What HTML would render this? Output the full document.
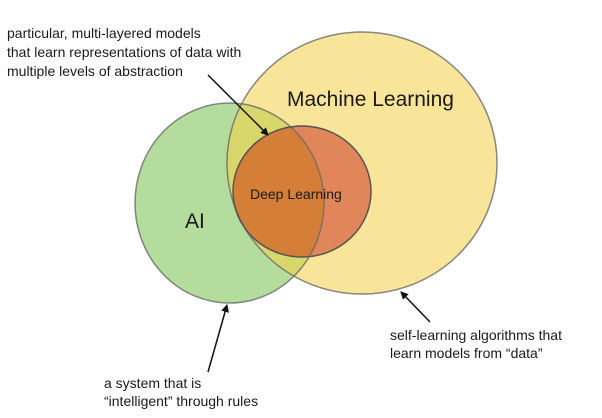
<!DOCTYPE html>
<html><head><meta charset="utf-8"><style>
html,body{margin:0;padding:0;background:#fff;}
svg{display:block;}
text{font-family:"Liberation Sans",sans-serif;fill:#1a1a1a;}
</style></head><body>
<svg width="602" height="418" viewBox="0 0 602 418">
<defs>
<marker id="a" markerWidth="8" markerHeight="8" refX="7" refY="4" orient="auto" markerUnits="userSpaceOnUse"><path d="M0,0 L8,4 L0,8 Z" fill="#111"/></marker>
<clipPath id="ai"><ellipse cx="229.5" cy="203" rx="94.5" ry="100"/></clipPath>
</defs>
<ellipse cx="229.5" cy="203" rx="94.5" ry="100" fill="#b4dd9d"/>
<ellipse cx="362" cy="163" rx="135" ry="131" fill="#f8e599"/>
<ellipse cx="362" cy="163" rx="135" ry="131" fill="#d7d76c" clip-path="url(#ai)"/>
<ellipse cx="302" cy="191.5" rx="69" ry="65.5" fill="#e1855a"/>
<ellipse cx="302" cy="191.5" rx="69" ry="65.5" fill="#d47e38" clip-path="url(#ai)"/>
<ellipse cx="229.5" cy="203" rx="94.5" ry="100" fill="none" stroke="#6a6a6a" stroke-width="1.5" stroke-opacity="0.8"/>
<ellipse cx="362" cy="163" rx="135" ry="131" fill="none" stroke="#6a6a6a" stroke-width="1.5" stroke-opacity="0.8"/>
<ellipse cx="302" cy="191.5" rx="69" ry="65.5" fill="none" stroke="#555" stroke-width="1.5"/>
<text x="287" y="106" font-size="21">Machine Learning</text>
<text x="185" y="228" font-size="21">AI</text>
<text x="250" y="199" font-size="14">Deep Learning</text>
<text font-size="14"><tspan x="7" y="38">particular, multi-layered models</tspan><tspan x="7" y="57">that learn representations of data with</tspan><tspan x="7" y="76">multiple levels of abstraction</tspan></text>
<text font-size="14"><tspan x="104" y="388">a system that is</tspan><tspan x="104" y="406">“intelligent” through rules</tspan></text>
<text font-size="14"><tspan x="390" y="340">self-learning algorithms that</tspan><tspan x="390" y="358">learn models from “data”</tspan></text>
<line x1="208" y1="75" x2="268" y2="135" stroke="#111" stroke-width="1.5" marker-end="url(#a)"/>
<line x1="208" y1="372" x2="227" y2="305" stroke="#111" stroke-width="1.5" marker-end="url(#a)"/>
<line x1="430" y1="322" x2="401" y2="292" stroke="#111" stroke-width="1.5" marker-end="url(#a)"/>
</svg>
</body></html>
